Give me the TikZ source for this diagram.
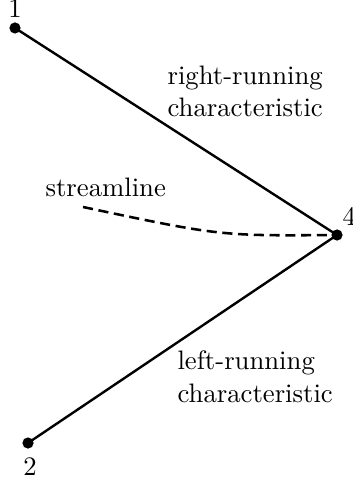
\documentclass[tikz,border=0pt]{standalone}
\begin{document}
\begin{tikzpicture}[x=0.3746pt,y=-0.3746pt,
  charline/.style={line width=0.9pt},
  dotpt/.style={circle,fill=black,inner sep=0pt,minimum size=4.2pt},
  lbl/.style={inner sep=0pt,font=\fontsize{10}{12}\selectfont},
  streamstyle/.style={line width=0.95pt,dash pattern=on 3.8pt off 2.1pt}]
\useasboundingbox (0,0) rectangle (352,482);
\node[dotpt] (p1) at (15,28) {};
\node[dotpt] (p4) at (337,235) {};
\node[dotpt] (p2) at (28,443) {};
\coordinate (s0) at (83,207);
\draw[charline] (p1.center) -- (p4.center);
\draw[charline] (p2.center) -- (p4.center);
\draw[streamstyle] (s0) .. controls (220,236) .. (p4.center);
\node[lbl,anchor=base] (n1) at (15,17.5) {1};
\node[lbl,anchor=base west] (n4) at (342,226) {4};
\node[lbl,anchor=base] (n2) at (30,475) {2};
\node[lbl,anchor=base west] (ls) at (45,197) {streamline};
\node[lbl,anchor=base west,align=left] (lr) at (167,117) {right-running\\characteristic};
\node[lbl,anchor=base west,align=left] (ll) at (177,402) {left-running\\characteristic};
\end{tikzpicture}
\end{document}
